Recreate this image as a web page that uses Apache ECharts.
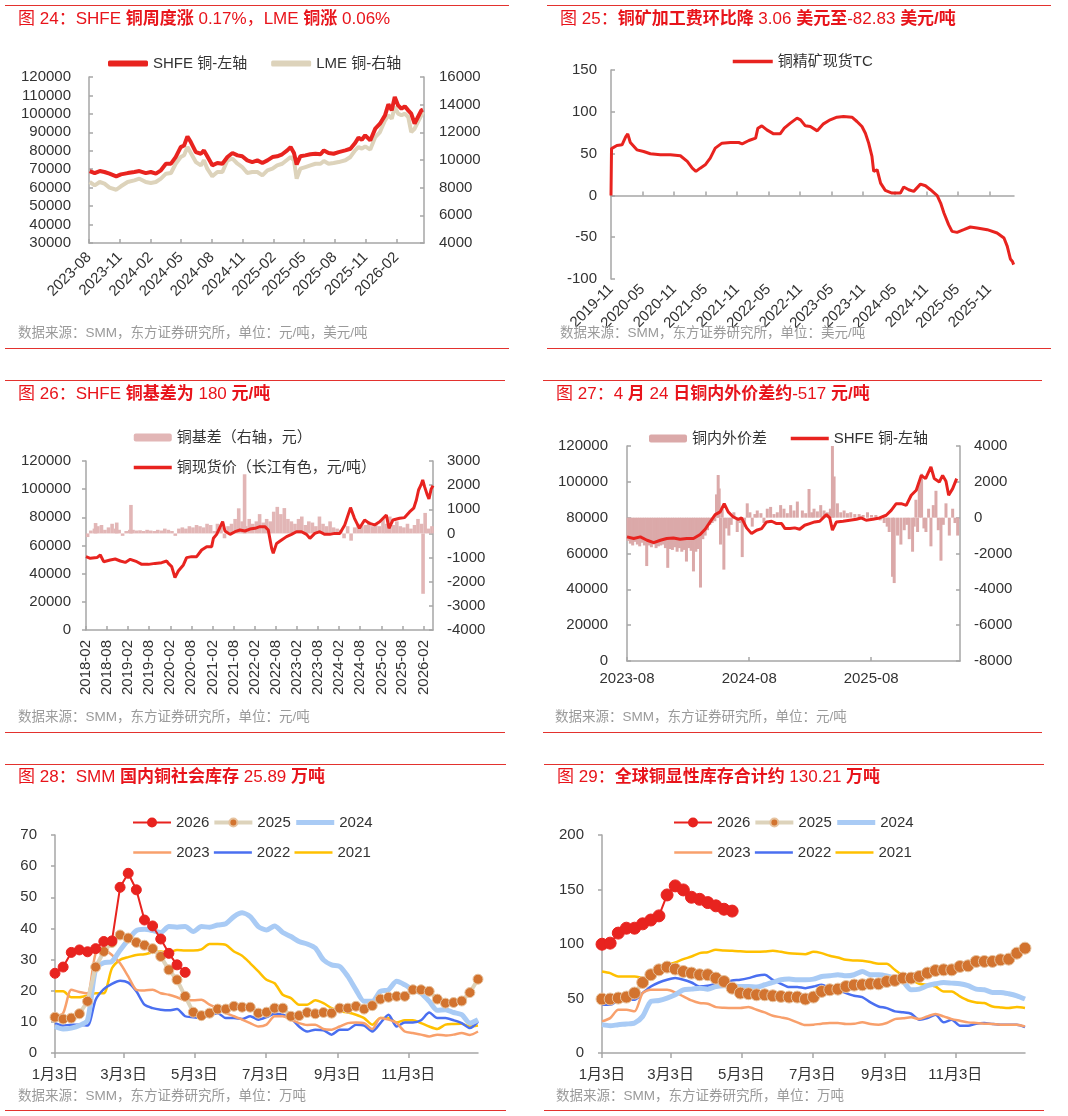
<!DOCTYPE html>
<html>
<head>
<meta charset="utf-8">
<script src="https://cdn.jsdelivr.net/npm/echarts@6/dist/echarts.min.js"></script>
<style>
body { margin: 0; width: 1068px; height: 1116px; background: #fff; position: relative; overflow: hidden;
  font-family: "Liberation Sans", "Noto Sans CJK SC", sans-serif; }
.rule { position: absolute; height: 0; border-top: 1px solid #E3322E; }
.ttl { position: absolute; color: #E8141B; font-size: 17px; line-height: 20px; white-space: nowrap; }
.ttl b { font-weight: bold; }
.src { position: absolute; color: #9A9A9A; font-size: 13.5px; line-height: 16px; white-space: nowrap; }
.chart { position: absolute; }
</style>
</head>
<body>
<div class="rule" style="left:5px;top:5px;width:504px"></div>
<div class="rule" style="left:5px;top:348px;width:504px"></div>
<div class="rule" style="left:547px;top:5px;width:504px"></div>
<div class="rule" style="left:547px;top:348px;width:504px"></div>
<div class="rule" style="left:5px;top:380px;width:500px"></div>
<div class="rule" style="left:5px;top:732px;width:500px"></div>
<div class="rule" style="left:543px;top:380px;width:499px"></div>
<div class="rule" style="left:543px;top:732px;width:499px"></div>
<div class="rule" style="left:5px;top:764px;width:501px"></div>
<div class="rule" style="left:5px;top:1110px;width:501px"></div>
<div class="rule" style="left:544px;top:764px;width:500px"></div>
<div class="rule" style="left:544px;top:1110px;width:500px"></div>

<div class="chart" id="c1" style="left:0;top:0;width:534px;height:348px"></div>
<div class="chart" id="c2" style="left:534px;top:0;width:534px;height:348px"></div>
<div class="chart" id="c3" style="left:0;top:375px;width:534px;height:357px"></div>
<div class="chart" id="c4" style="left:534px;top:375px;width:534px;height:357px"></div>
<div class="chart" id="c5" style="left:0;top:760px;width:534px;height:350px"></div>
<div class="chart" id="c6" style="left:534px;top:760px;width:534px;height:350px"></div>

<div class="ttl" style="left:18px;top:9px">图 24：SHFE <b>铜周度涨</b> 0.17%，LME <b>铜涨</b> 0.06%</div>
<div class="ttl" style="left:560px;top:9px">图 25：<b>铜矿加工费环比降</b> 3.06 <b>美元至</b>-82.83 <b>美元/吨</b></div>
<div class="ttl" style="left:18px;top:384px">图 26：SHFE <b>铜基差为</b> 180 <b>元/吨</b></div>
<div class="ttl" style="left:556px;top:384px">图 27：4 <b>月</b> 24 <b>日铜内外价差约</b>-517 <b>元/吨</b></div>
<div class="ttl" style="left:18px;top:767px">图 28：SMM <b>国内铜社会库存</b> 25.89 <b>万吨</b></div>
<div class="ttl" style="left:557px;top:767px">图 29：<b>全球铜显性库存合计约</b> 130.21 <b>万吨</b></div>

<div class="src" style="left:18px;top:325px">数据来源：SMM，东方证券研究所，单位：元/吨，美元/吨</div>
<div class="src" style="left:560px;top:325px">数据来源：SMM，东方证券研究所，单位：美元/吨</div>
<div class="src" style="left:18px;top:709px">数据来源：SMM，东方证券研究所，单位：元/吨</div>
<div class="src" style="left:555px;top:709px">数据来源：SMM，东方证券研究所，单位：元/吨</div>
<div class="src" style="left:18px;top:1088px">数据来源：SMM，东方证券研究所，单位：万吨</div>
<div class="src" style="left:556px;top:1088px">数据来源：SMM，东方证券研究所，单位：万吨</div>

<script>
var FONT = '"Liberation Sans", "Noto Sans CJK SC", sans-serif';
var AX = '#A6A6A6';
var TXT = '#333';
var RED = '#E8231F';
var PINK = '#DBA9A9';

// ---- 图24 ----
var c1Dates = ['2023-08-03','2023-08-18','2023-09-02','2023-09-16','2023-10-01','2023-10-21','2023-11-04','2023-11-24','2023-12-14','2023-12-29',
  '2024-01-17','2024-02-01','2024-02-16','2024-03-02','2024-03-17','2024-04-01','2024-04-15','2024-04-30','2024-05-10','2024-05-20',
  '2024-05-30','2024-06-14','2024-06-29','2024-07-08','2024-07-18','2024-08-02','2024-08-17','2024-09-01','2024-09-16','2024-10-01',
  '2024-10-16','2024-10-30','2024-11-14','2024-11-29','2024-12-14','2024-12-29','2025-01-13','2025-01-28','2025-02-11','2025-02-26',
  '2025-03-13','2025-03-23','2025-04-02','2025-04-10','2025-04-21','2025-05-06','2025-05-21','2025-06-05','2025-06-20','2025-06-30',
  '2025-07-14','2025-07-29','2025-08-13','2025-09-02','2025-09-17','2025-10-01','2025-10-11','2025-10-21','2025-10-31','2025-11-15',
  '2025-11-30','2025-12-14','2025-12-29','2026-01-08','2026-01-18','2026-01-27','2026-02-06','2026-02-16','2026-02-26','2026-03-08',
  '2026-03-17','2026-03-27','2026-04-06','2026-04-16','2026-04-21'];
var c1Shfe = [69000,67900,69000,68500,67600,66100,67200,67900,68500,69000,
  67900,68500,67600,69400,73000,73000,76600,82000,82900,87800,
  84700,79300,78400,80200,77000,72100,73400,73000,76600,78800,
  77500,77000,74800,73900,74800,73400,74800,76600,77000,78100,
  80200,82000,78800,72600,77000,77500,78100,78400,78100,80200,
  78800,78400,79300,80200,81100,84200,87100,86000,88400,85600,
  92000,94700,99200,105200,101900,109200,104600,102800,104100,101900,
  100100,94700,98300,101900,102300];
var c1Lme = [8410,8170,8410,8290,8000,7850,8100,8410,8530,8650,
  8410,8340,8410,8650,9010,9060,9730,10220,10340,10940,
  10500,9850,9610,9980,9370,8820,9130,9130,9980,10100,
  9730,9490,9060,9130,9130,8890,9250,9370,9610,9730,
  10020,10220,9980,8650,9370,9490,9610,9730,9730,9930,
  9730,9780,9850,9980,10220,10700,10940,10820,10990,10750,
  11660,12020,12870,13230,12990,13830,13350,13230,13350,13110,
  12020,12260,12750,13230,13470];
var c1Ticks = ['2023-08-01','2023-11-01','2024-02-01','2024-05-01','2024-08-01','2024-11-01','2025-02-01','2025-05-01','2025-08-01','2025-11-01','2026-02-01'];

// ---- 图25 ----
var c2Dates = ['2019-11-01','2019-11-04','2019-12-05','2020-01-04','2020-01-25','2020-02-06','2020-02-21','2020-03-30','2020-05-08','2020-06-16',
  '2020-08-13','2020-10-10','2020-12-07','2021-01-16','2021-02-14','2021-03-07','2021-04-01','2021-04-30','2021-05-29','2021-06-27',
  '2021-08-05','2021-09-23','2021-11-10','2021-11-30','2022-01-08','2022-02-16','2022-03-01','2022-03-24','2022-04-22','2022-05-31',
  '2022-07-08','2022-08-01','2022-09-05','2022-10-14','2022-11-03','2022-12-01','2022-12-30','2023-02-08','2023-03-16','2023-04-24',
  '2023-06-02','2023-07-10','2023-08-28','2023-09-26','2023-10-25','2023-11-14','2023-12-03','2023-12-22','2024-01-01','2024-01-21',
  '2024-02-10','2024-03-08','2024-04-16','2024-06-04','2024-06-23','2024-07-22','2024-08-20','2024-09-28','2024-10-27','2024-11-25',
  '2025-01-03','2025-01-23','2025-02-11','2025-03-10','2025-03-30','2025-04-28','2025-06-06','2025-07-14','2025-08-22','2025-10-20',
  '2025-12-16','2026-01-25','2026-02-13','2026-03-03','2026-03-15','2026-03-22'];
var c2Tc = [0,56,59.7,60.5,70,73.6,63.3,54.5,52.5,49.8,
  48.6,48.6,47.4,40.6,32.6,28.7,32.6,36.6,44.6,56.5,
  62.5,63.3,63.3,61.7,65.7,68.5,80.4,83.2,78.4,73.6,
  73.6,80.4,86.4,92.4,90.4,83.2,82.4,77.2,85.6,90.4,
  93.6,94.3,93.6,88.4,82.4,74.4,62.5,46.6,28.7,30.7,
  14.7,6,2.8,2.8,10,6.8,4.8,13.5,11.5,6.8,
  -0.4,-9.2,-21,-35,-43,-44.2,-41,-37.8,-39,-41,
  -45,-51,-61,-76,-79,-82.8];
var c2Ticks = ['2019-11-01','2020-05-01','2020-11-01','2021-05-01','2021-11-01','2022-05-01','2022-11-01','2023-05-01','2023-11-01','2024-05-01','2024-11-01','2025-05-01','2025-11-01'];

// ---- 图26 ----
var c3Dates = ['2018-02-01','2018-03-10','2018-05-07','2018-06-05','2018-07-04','2018-08-30','2018-10-12','2018-11-25','2019-01-07','2019-02-19',
  '2019-04-17','2019-05-30','2019-07-27','2019-09-22','2019-11-18','2020-01-01','2020-01-15','2020-02-13','2020-03-12','2020-04-10',
  '2020-05-24','2020-06-21','2020-08-03','2020-09-16','2020-10-29','2020-12-12','2021-01-24','2021-02-08','2021-03-08','2021-04-29',
  '2021-05-19','2021-07-02','2021-08-14','2021-09-26','2021-11-08','2021-12-21','2022-02-03','2022-03-18','2022-04-30','2022-05-29',
  '2022-06-27','2022-07-11','2022-08-09','2022-09-21','2022-11-03','2022-12-16','2023-01-28','2023-03-13','2023-04-25','2023-05-24',
  '2023-07-06','2023-08-18','2023-09-30','2023-11-12','2023-12-26','2024-02-07','2024-03-21','2024-05-10','2024-06-13','2024-07-26',
  '2024-09-09','2024-10-22','2024-12-04','2025-01-17','2025-03-16','2025-04-08','2025-05-12','2025-07-09','2025-08-21','2025-10-03',
  '2025-11-08','2025-12-01','2025-12-20','2026-01-10','2026-01-25','2026-02-10','2026-03-05','2026-03-20','2026-04-08','2026-04-24'];
var c3Spot = [52070,50900,51400,53260,48500,49700,50400,49000,48000,50200,
  48500,46600,46600,47300,47800,49000,47300,45000,37200,41900,
  46200,51400,52100,52100,56800,59200,59200,65100,67900,76900,
  70300,67900,69800,71000,70300,71700,72200,73400,73400,71000,
  58000,54400,61500,63900,66300,67900,69800,69800,67900,65100,
  68600,69800,67900,67900,68600,68600,74600,86900,79300,72200,
  78100,75700,74600,76900,81700,72200,78100,79300,79800,83800,
  86500,92300,99400,103000,106500,101800,96000,93000,100000,102500];
var c3BasisDates = ['2018-02-15','2018-03-15','2018-04-15','2018-04-25','2018-05-15','2018-06-15','2018-07-15','2018-08-15','2018-09-15','2018-10-15','2018-10-25','2018-11-15','2018-12-15',
  '2019-01-15','2019-02-15','2019-02-25','2019-03-15','2019-04-15','2019-05-15','2019-06-15','2019-07-15','2019-08-15','2019-09-15','2019-10-15','2019-11-15','2019-12-15',
  '2020-01-15','2020-02-15','2020-03-15','2020-04-15','2020-05-15','2020-06-15','2020-07-15','2020-08-15','2020-09-15','2020-10-15','2020-11-15','2020-12-15',
  '2021-01-15','2021-02-15','2021-03-15','2021-04-15','2021-05-15','2021-06-15','2021-07-15','2021-08-15','2021-09-15','2021-10-15','2021-11-05','2021-11-15','2021-12-15',
  '2022-01-15','2022-02-15','2022-03-15','2022-04-15','2022-05-15','2022-06-15','2022-07-15','2022-08-15','2022-09-15','2022-10-15','2022-11-15','2022-12-15',
  '2023-01-15','2023-02-15','2023-03-15','2023-04-15','2023-05-15','2023-06-15','2023-07-15','2023-08-15','2023-09-15','2023-10-15','2023-11-15','2023-12-15',
  '2024-01-15','2024-02-15','2024-03-15','2024-04-15','2024-05-15','2024-06-15','2024-07-15','2024-08-15','2024-09-15','2024-10-15','2024-11-15','2024-12-15',
  '2025-01-15','2025-02-15','2025-03-15','2025-04-15','2025-05-15','2025-06-15','2025-07-15','2025-08-15','2025-09-15','2025-10-15','2025-11-15','2025-12-15',
  '2026-01-15','2026-01-28','2026-02-15','2026-03-15','2026-04-15'];
var c3Basis = [-150,120,200,430,300,350,150,250,400,200,450,150,-100,
  100,150,1180,150,120,130,100,150,120,100,150,120,200,
  150,100,-100,200,250,200,300,250,350,300,250,400,
  350,100,400,250,-200,300,400,600,1040,500,2450,300,600,
  400,500,800,450,600,500,900,1100,800,1050,600,500,
  400,600,700,350,500,450,300,700,400,300,500,250,
  200,150,-200,300,-300,250,400,300,350,500,300,400,
  300,600,400,700,350,500,300,250,400,200,350,600,
  400,-2500,850,200,300];
var c3Ticks = ['2018-02-01','2018-08-01','2019-02-01','2019-08-01','2020-02-01','2020-08-01','2021-02-01','2021-08-01','2022-02-01','2022-08-01','2023-02-01','2023-08-01','2024-02-01','2024-08-01','2025-02-01','2025-08-01','2026-02-01'];

// ---- 图27 ----
var c4Dates = ['2023-08-01','2023-08-21','2023-09-10','2023-09-30','2023-10-20','2023-11-09','2023-11-28','2023-12-18','2024-01-07','2024-01-27',
  '2024-02-16','2024-03-07','2024-03-22','2024-04-06','2024-04-21','2024-05-06','2024-05-18','2024-05-30','2024-06-14','2024-06-29',
  '2024-07-09','2024-07-24','2024-08-08','2024-08-23','2024-09-07','2024-09-22','2024-10-07','2024-10-22','2024-11-06','2024-11-16',
  '2024-12-01','2024-12-15','2024-12-30','2025-01-14','2025-01-29','2025-02-13','2025-02-28','2025-03-20','2025-03-30','2025-04-07',
  '2025-04-19','2025-05-09','2025-05-29','2025-06-18','2025-07-02','2025-07-17','2025-08-06','2025-08-26','2025-09-15','2025-09-30',
  '2025-10-15','2025-10-30','2025-11-14','2025-11-29','2025-12-14','2025-12-29','2026-01-11','2026-01-27','2026-02-06','2026-02-21',
  '2026-03-03','2026-03-13','2026-03-21','2026-04-02','2026-04-14'];
var c4Shfe = [69270,68340,69270,67400,66100,67400,68340,68700,67970,68340,
  68340,70570,73540,77620,81700,83200,87800,83200,80400,79100,
  79850,74300,71100,73000,73900,77620,78000,76700,76700,73900,
  73900,74300,73540,75770,76700,77620,78000,81700,79850,73000,
  77620,78000,78550,79100,79850,78550,79100,79850,81340,84100,
  87800,87800,86900,92500,95300,103600,101800,108300,101800,99900,
  103600,100300,92500,96200,101800];
var c4SpreadDates = ['2023-08-04','2023-08-11','2023-08-18','2023-08-25','2023-09-01','2023-09-08','2023-09-15','2023-09-22','2023-09-29','2023-10-06',
  '2023-10-13','2023-10-20','2023-10-27','2023-11-03','2023-11-10','2023-11-17','2023-11-24','2023-12-01','2023-12-08','2023-12-15',
  '2023-12-22','2023-12-29','2024-01-05','2024-01-12','2024-01-19','2024-01-26','2024-02-02','2024-02-09','2024-02-16','2024-02-23',
  '2024-03-01','2024-03-08','2024-03-15','2024-03-22','2024-03-29','2024-04-05','2024-04-12',
  '2024-04-20','2024-04-25','2024-04-30','2024-05-03','2024-05-07','2024-05-12','2024-05-17','2024-05-24','2024-06-01','2024-06-08',
  '2024-06-16','2024-06-26','2024-07-04','2024-07-11','2024-07-18','2024-07-26','2024-08-03','2024-08-10','2024-08-18','2024-08-25',
  '2024-09-05','2024-09-14','2024-09-24','2024-10-04','2024-10-14','2024-10-24','2024-11-03','2024-11-13','2024-11-23','2024-12-03',
  '2024-12-13','2024-12-23','2025-01-07','2025-01-17','2025-01-27','2025-02-04','2025-02-11','2025-02-21','2025-03-03','2025-03-13',
  '2025-03-23','2025-04-01','2025-04-07','2025-04-12','2025-04-22','2025-05-02','2025-05-12','2025-05-22','2025-06-01','2025-06-13',
  '2025-06-26','2025-07-08','2025-07-21','2025-08-02','2025-08-15','2025-08-28','2025-09-09','2025-09-18','2025-09-24','2025-10-04',
  '2025-10-09','2025-10-19','2025-10-29','2025-11-08','2025-11-16','2025-11-23','2025-12-03','2025-12-08','2025-12-13','2025-12-18',
  '2025-12-23','2025-12-30','2026-01-06','2026-01-12','2026-01-20','2026-01-27','2026-02-03','2026-02-11','2026-02-18','2026-02-26',
  '2026-03-05','2026-03-13','2026-03-23','2026-04-02','2026-04-09','2026-04-17'];
var c4Spread = [-1300,-1450,-1550,-1350,-1500,-1600,-1400,-1550,-2700,-1550,
  -1650,-1500,-1700,-1600,-1550,-1500,-1700,-2800,-1750,-1800,
  -1650,-1900,-1700,-1900,-1800,-2450,-1700,-1850,-3000,-1900,
  -1750,-3900,-1200,-1000,-700,-400,-300,
  -200,1300,2380,1630,-1500,600,-2900,-600,-1000,-400,
  300,-800,-300,-2200,-500,800,300,-500,200,400,
  250,-300,500,600,200,300,700,500,250,700,
  400,900,400,250,1600,300,500,350,700,400,
  300,500,4000,2300,800,300,400,250,300,200,
  200,150,300,150,150,-150,-300,-500,-800,-3300,
  -3650,-1000,-1500,-700,-400,-1200,-1900,-500,1000,-800,
  2000,2450,-600,-800,500,-1600,700,1500,-700,-2400,
  -400,800,-1000,500,-300,-1000];
var c4Ticks = ['2023-08-01','2024-08-01','2025-08-01'];

// ---- 图28 / 图29 (周度, 自1月3日起) ----
var weekLabels = ['1月3日','3月3日','5月3日','7月3日','9月3日','11月3日'];
var weekLabelDays = [0, 59, 120, 181, 243, 304];

var soc2026 = [25.6,27.6,32.3,33.1,32.5,33.5,35.8,36.0,53.2,57.7,52.4,42.7,40.8,36.6,32.0,28.3,25.9];
var soc2025 = [11.5,10.9,11.2,12.6,16.6,27.6,32.6,35.5,37.9,36.9,35.5,34.6,33.5,31.0,26.7,23.5,18.2,13.1,12.0,12.8,
  14.1,14.1,15.0,14.7,14.7,12.8,13.1,14.4,14.4,11.8,12.0,13.0,12.6,13.0,12.8,14.4,14.4,15.0,14.1,15.2,
  17.3,17.9,18.2,18.2,20.3,20.3,19.8,17.3,16.0,16.2,16.7,19.4,23.7];
var soc2024 = [8.5,7.7,8.0,8.8,10.5,27.0,29.0,29.4,33.0,36.3,39.3,39.7,39.3,38.7,40.6,40.4,40.6,39.0,40.6,40.4,
  41.1,41.5,43.8,45.0,43.8,40.6,39.5,40.8,38.7,37.4,35.8,35.0,33.7,29.9,28.3,27.8,24.6,20.3,16.6,16.6,
  19.8,20.3,23.0,21.9,20.3,19.2,16.6,13.7,13.9,13.0,12.3,9.6,10.7];
var soc2023 = [11.8,12.8,20.3,19.6,19.2,32.0,32.9,31.5,28.8,24.6,20.3,20.1,20.3,19.2,18.7,17.9,16.9,16.9,17.1,15.5,
  14.4,12.8,11.8,10.7,9.6,8.5,9.1,11.8,11.8,10.7,9.6,9.0,9.1,7.7,7.5,8.5,9.6,9.8,9.6,7.7,
  11.2,10.7,9.6,6.9,6.4,5.9,5.3,5.9,5.6,5.9,6.4,5.8,6.9];
var soc2022 = [9.6,8.8,9.1,9.1,8.8,17.1,20.5,22.2,23.2,22.6,19.8,15.5,14.4,13.9,13.7,14.1,11.8,11.5,11.2,12.3,
  12.8,11.2,11.2,10.9,11.8,10.7,11.5,12.6,12.3,11.2,8.5,6.9,7.5,7.3,5.9,7.5,7.5,9.1,8.8,6.9,
  9.6,12.3,8.5,9.8,9.8,10.5,13.0,11.2,11.2,10.5,9.6,8.0,10.1];
var soc2021 = [19.8,19.8,17.9,17.9,18.4,19.2,19.2,27.2,29.9,30.8,31.5,31.7,32.3,32.6,32.3,33.1,32.9,32.9,33.3,35.0,
  35.0,34.7,32.6,31.2,28.8,26.2,23.5,22.4,18.7,17.6,15.5,15.5,16.9,16.0,14.4,13.4,13.0,12.3,11.2,9.1,
  11.2,11.2,9.8,10.5,10.5,9.6,8.5,7.7,9.1,9.3,9.4,8.5,8.8];

var glb2026 = [99.8,100.8,110.0,114.5,114.5,118.5,122.0,125.8,145.0,153.3,149.6,142.9,141.0,138.0,135.0,131.9,130.2];
var glb2025 = [49.5,49.5,50.4,51.3,55.0,64.7,71.8,76.3,78.8,77.0,74.8,73.3,71.8,71.8,68.7,65.6,59.5,55.0,54.4,53.4,
  53.4,52.5,51.9,51.3,51.3,49.5,51.3,56.5,58.0,58.6,61.0,62.3,62.6,63.5,63.5,65.6,66.6,68.7,68.7,70.2,
  73.3,75.7,76.3,76.3,79.4,80.0,84.0,84.0,84.0,85.5,86.1,91.6,96.2];
var glb2024 = [26.0,25.0,26.0,26.6,27.5,33.6,47.3,48.2,50.4,53.4,58.0,58.6,59.5,58.6,61.0,61.7,61.7,61.0,61.0,60.5,
  62.6,64.7,67.2,67.8,67.2,67.2,67.8,70.2,70.8,71.8,70.8,71.8,74.8,71.8,71.8,70.8,68.7,65.6,58.0,58.6,
  61.7,63.5,64.7,64.1,63.5,61.7,58.6,58.0,55.6,55.6,54.4,52.5,49.5];
var glb2023 = [29.0,32.0,39.7,39.7,38.2,55.0,58.0,58.0,58.0,55.6,51.9,48.2,45.8,45.2,42.1,41.5,41.2,41.2,42.1,39.7,
  37.3,34.2,32.7,31.1,28.1,25.6,26.0,26.9,27.5,27.5,26.6,26.9,28.1,26.6,26.0,27.5,31.1,31.8,32.7,31.1,
  33.6,35.7,33.6,31.1,29.6,28.1,27.5,26.9,26.6,26.0,26.0,26.0,24.4];
var glb2022 = [44.3,44.3,48.2,48.9,48.9,55.0,61.0,64.7,67.2,68.7,67.2,64.7,61.0,61.7,63.5,64.7,66.6,67.2,68.7,70.8,
  71.8,67.2,63.5,60.5,60.5,59.5,61.0,62.6,59.5,58.0,55.0,52.5,51.3,46.4,42.7,41.2,38.2,37.3,36.0,30.5,
  32.0,35.1,28.1,30.5,25.0,25.0,26.9,27.5,26.6,26.0,26.0,26.0,23.8];
var glb2021 = [74.8,73.3,70.2,70.2,70.2,68.7,67.2,77.9,80.9,83.0,86.1,88.5,91.6,92.5,94.7,94.0,93.7,93.4,92.8,92.8,
  93.1,93.7,92.8,91.6,91.0,90.7,92.8,91.6,89.2,87.6,85.5,84.9,84.6,83.4,81.8,81.8,76.3,70.8,67.2,63.5,
  62.6,61.0,56.5,56.5,51.9,48.2,46.4,45.8,42.7,41.8,41.2,42.1,41.2];

// ---- helpers ----
function days(s, base) { return Math.round((Date.parse(s) - Date.parse(base)) / 864e5); }
function pairs(dates, vals, base) { return dates.map(function (d, i) { return [days(d, base), vals[i]]; }); }
function weekly(vals) { return vals.map(function (v, i) { return [i * 7, v]; }); }
function ym(v, base) {
  var t = new Date(Date.parse(base) + v * 864e5 + 43200000);
  var m = t.getUTCMonth() + 1;
  return t.getUTCFullYear() + '-' + (m < 10 ? '0' + m : m);
}

function dateAxis(base, end, ticks, rotate, inside, margin, onZero) {
  var cv = ticks.map(function (t) { return days(t, base); });
  return {
    type: 'value', min: 0, max: days(end, base),
    splitLine: {show: false},
    axisLine: {onZero: !!onZero, lineStyle: {color: AX, width: 1.5}},
    axisTick: {inside: inside, length: 4, customValues: cv, lineStyle: {color: AX, width: 1.5}},
    axisLabel: {customValues: cv, rotate: rotate, margin: margin, fontSize: 15, color: TXT, fontFamily: FONT,
      formatter: function (v) { return ym(v, base); }}
  };
}

function yAxis(min, max, step, pos, inside, margin) {
  return {
    type: 'value', min: min, max: max, interval: step, position: pos,
    splitLine: {show: false},
    axisLine: {show: true, onZero: false, lineStyle: {color: AX, width: 1.5}},
    axisTick: {show: true, inside: inside, length: 4, lineStyle: {color: AX, width: 1.5}},
    axisLabel: {margin: margin, fontSize: 15, color: TXT, fontFamily: FONT,
      formatter: function (v) { return String(v); }}
  };
}

function legendText() { return {fontSize: 15, color: TXT, fontFamily: FONT}; }
// legend entry for a line: set its stroke width, optionally hide the dot
function legLine(name, width, noDot) {
  var it = {name: name, lineStyle: {width: width}};
  if (noDot) it.itemStyle = {opacity: 0};
  return it;
}

// ---- 图24 ----
var c1 = echarts.init(document.getElementById('c1'));
c1.setOption({
  animation: false,
  legend: {left: 108, top: 56, padding: 0, itemWidth: 40, itemHeight: 6, itemGap: 24, textStyle: legendText(),
    data: [{name: 'SHFE 铜-左轴', icon: 'roundRect'}, {name: 'LME 铜-右轴', icon: 'roundRect'}]},
  grid: {left: 89, top: 77, width: 335, height: 166},
  xAxis: dateAxis('2023-08-01', '2026-04-24', c1Ticks, 45, true, 12),
  yAxis: [yAxis(30000, 120000, 10000, 'left', true, 18), yAxis(4000, 16000, 2000, 'right', true, 15)],
  series: [
    {name: 'LME 铜-右轴', type: 'line', yAxisIndex: 1, symbol: 'none', color: '#DDD3BB',
      lineStyle: {width: 4, color: '#DDD3BB'}, data: pairs(c1Dates, c1Lme, '2023-08-01')},
    {name: 'SHFE 铜-左轴', type: 'line', yAxisIndex: 0, symbol: 'none', color: RED, z: 3,
      lineStyle: {width: 4, color: RED}, data: pairs(c1Dates, c1Shfe, '2023-08-01')}
  ]
});

// ---- 图25 ----
var c2 = echarts.init(document.getElementById('c2'));
c2.setOption({
  animation: false,
  legend: {left: 197, top: 54, padding: 0, itemWidth: 40, itemHeight: 10, textStyle: legendText(),
    data: [legLine('铜精矿现货TC', 3.5, true)]},
  grid: {left: 77, top: 70, width: 403, height: 209},
  xAxis: dateAxis('2019-11-01', '2026-03-24', c2Ticks, 45, true, 8, true),
  yAxis: yAxis(-100, 150, 50, 'left', true, 14),
  series: [
    {name: '铜精矿现货TC', type: 'line', symbol: 'none', color: RED, lineStyle: {width: 3, color: RED},
      data: pairs(c2Dates, c2Tc, '2019-11-01')}
  ]
});

// ---- 图26 ----
var c3 = echarts.init(document.getElementById('c3'));
c3.setOption({
  animation: false,
  legend: {left: 132, top: 55, padding: 0, orient: 'vertical', itemWidth: 38, itemHeight: 8, itemGap: 15, textStyle: legendText(),
    data: ['铜基差（右轴，元）', legLine('铜现货价（长江有色，元/吨）', 3.5, true)]},
  grid: {left: 86, top: 86, width: 347, height: 169},
  xAxis: dateAxis('2018-02-01', '2026-04-24', c3Ticks, 90, true, 10),
  yAxis: [yAxis(0, 120000, 20000, 'left', false, 15), yAxis(-4000, 3000, 1000, 'right', true, 14)],
  series: [
    {name: '铜基差（右轴，元）', type: 'bar', yAxisIndex: 1, barWidth: 3.6, color: PINK,
      itemStyle: {color: '#E2B6B6'}, data: pairs(c3BasisDates, c3Basis, '2018-02-01')},
    {name: '铜现货价（长江有色，元/吨）', type: 'line', yAxisIndex: 0, symbol: 'none', color: RED, z: 3,
      lineStyle: {width: 3, color: RED}, data: pairs(c3Dates, c3Spot, '2018-02-01')}
  ]
});

// ---- 图27 ----
var c4 = echarts.init(document.getElementById('c4'));
c4.setOption({
  animation: false,
  legend: {left: 115, top: 56, padding: 0, itemWidth: 38, itemHeight: 8, itemGap: 22, textStyle: legendText(),
    data: ['铜内外价差', legLine('SHFE 铜-左轴', 3.5, true)]},
  grid: {left: 93, top: 71, width: 333, height: 215},
  xAxis: dateAxis('2023-08-01', '2026-04-24', c4Ticks, 0, true, 10),
  yAxis: [yAxis(0, 120000, 20000, 'left', true, 19), yAxis(-8000, 4000, 2000, 'right', true, 14)],
  series: [
    {name: '铜内外价差', type: 'bar', yAxisIndex: 1, barWidth: 3, color: PINK,
      itemStyle: {color: PINK}, data: pairs(c4SpreadDates, c4Spread, '2023-08-01')},
    {name: 'SHFE 铜-左轴', type: 'line', yAxisIndex: 0, symbol: 'none', color: RED, z: 3,
      lineStyle: {width: 3, color: RED}, data: pairs(c4Dates, c4Shfe, '2023-08-01')}
  ]
});

// ---- 图28 / 图29 ----
var yearStyle = {
  '2026': {color: RED, width: 2, symbol: 'circle', dot: RED},
  '2025': {color: '#DDD3BB', width: 4, symbol: 'circle', dot: '#D2732F'},
  '2024': {color: '#A9CBF5', width: 5, symbol: 'none'},
  '2023': {color: '#F8A06C', width: 2.5, symbol: 'none'},
  '2022': {color: '#4A6FF0', width: 2.5, symbol: 'none'},
  '2021': {color: '#FFC000', width: 2.5, symbol: 'none'}
};

function invLegend(y) {
  var s = yearStyle[y];
  return legLine(y, s.width, s.symbol === 'none');
}

function invOption(sets, gridLeft, legLeft, yMax, yStep, dotSize) {
  var order = ['2021', '2022', '2023', '2024', '2025', '2026'];
  var series = order.map(function (y, k) {
    var s = yearStyle[y];
    return {
      name: y, type: 'line', z: 2 + k, symbol: s.symbol, symbolSize: dotSize, showSymbol: s.symbol !== 'none',
      smooth: s.symbol === 'none' ? 0.25 : false,
      color: s.dot || s.color,
      lineStyle: {width: s.width, color: s.color},
      itemStyle: {color: s.dot || s.color, borderColor: y === '2025' ? '#E6C29E' : (s.dot || s.color), borderWidth: 1},
      data: weekly(sets[y])
    };
  });
  return {
    animation: false,
    legend: [
      {left: legLeft, top: 55, padding: 0, itemWidth: 38, itemHeight: 10, itemGap: 3, textStyle: legendText(),
        data: ['2026', '2025', '2024'].map(invLegend)},
      {left: legLeft, top: 85, padding: 0, itemWidth: 38, itemHeight: 10, itemGap: 3, textStyle: legendText(),
        data: ['2023', '2022', '2021'].map(invLegend)}
    ],
    grid: {left: gridLeft, top: 75, width: 423, height: 218},
    xAxis: {
      type: 'value', min: 0, max: 364,
      splitLine: {show: false},
      axisLine: {onZero: false, lineStyle: {color: AX, width: 1.5}},
      axisTick: {length: 5, customValues: weekLabelDays, lineStyle: {color: AX, width: 1.5}},
      axisLabel: {customValues: weekLabelDays, margin: 14, fontSize: 15, color: TXT, fontFamily: FONT,
        formatter: function (v) { return weekLabels[weekLabelDays.indexOf(v)]; }}
    },
    yAxis: yAxis(0, yMax, yStep, 'left', false, 18),
    series: series
  };
}

var c5 = echarts.init(document.getElementById('c5'));
c5.setOption(invOption({'2026': soc2026, '2025': soc2025, '2024': soc2024, '2023': soc2023, '2022': soc2022, '2021': soc2021},
  55, 132, 70, 10, 10));

var c6 = echarts.init(document.getElementById('c6'));
c6.setOption(invOption({'2026': glb2026, '2025': glb2025, '2024': glb2024, '2023': glb2023, '2022': glb2022, '2021': glb2021},
  68, 139, 200, 50, 12));
</script>
</body>
</html>
